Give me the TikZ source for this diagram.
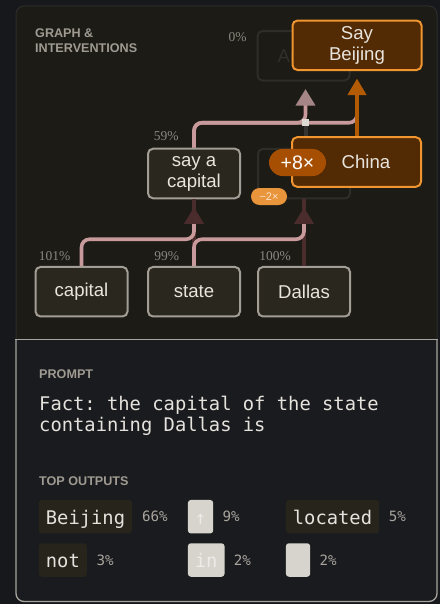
\documentclass[tikz,border=0pt]{standalone}
\usepackage{fontspec}
\setmainfont{Liberation Sans}
\setmonofont{DejaVu Sans Mono}
\newfontfamily\pctfont{Liberation Serif}
\usepackage{tikz}
\usetikzlibrary{positioning}
\usetikzlibrary{calc,arrows.meta}

\definecolor{PageBg}{HTML}{17181B}
\definecolor{GraphBg}{HTML}{1C1B16}
\definecolor{GraphEdge}{HTML}{2C2C2B}
\definecolor{PromptBg}{HTML}{1A1B1E}
\definecolor{PromptEdge}{HTML}{A8A59F}
\definecolor{HeadGray}{HTML}{A09B92}
\definecolor{NodeFill}{HTML}{2A271F}
\definecolor{NodeEdge}{HTML}{A39E95}
\definecolor{NodeText}{HTML}{E9E5DD}
\definecolor{GhostEdge}{HTML}{2E2D28}
\definecolor{GhostText}{HTML}{302F2A}
\definecolor{SteerFill}{HTML}{522A04}
\definecolor{SteerEdge}{HTML}{F0952F}
\definecolor{PillDark}{HTML}{A64F03}
\definecolor{PillLight}{HTML}{E8953C}
\definecolor{PillLightText}{HTML}{FBE3C6}
\definecolor{FlowPink}{HTML}{C89A9B}
\definecolor{DimRed}{HTML}{4B2C2C}
\definecolor{DimGray}{HTML}{35332F}
\definecolor{TipMauve}{HTML}{A58585}
\definecolor{BoostOrange}{HTML}{B35B04}
\definecolor{PctGray}{HTML}{8C8880}
\definecolor{PromptText}{HTML}{E5E2DD}
\definecolor{ChipDark}{HTML}{27241B}
\definecolor{ChipLight}{HTML}{D7D4CE}
\definecolor{ChipLightText}{HTML}{EDEBE7}
\definecolor{OutPctGray}{HTML}{A9A59E}
\definecolor{CutMark}{HTML}{DCD8D2}

\tikzset{
	feature/.style={draw=NodeEdge, fill=NodeFill, line width=2pt, rounded corners=5pt,
		minimum width=92pt, minimum height=49.5pt, inner sep=0pt, align=center,
		text=NodeText, font=\fontsize{18.6}{21}\selectfont},
	ghost/.style={feature, draw=GhostEdge, fill=GraphBg, text=GhostText},
	steered/.style={feature, draw=SteerEdge, fill=SteerFill, minimum width=129pt},
	heading/.style={text=HeadGray, font=\bfseries\fontsize{12.6}{15}\selectfont, inner sep=0pt, align=left},
	pct/.style={text=PctGray, font=\pctfont\fontsize{13.5}{14}\selectfont, inner sep=0pt},
	flow/.style={draw=FlowPink, line width=3.6pt, rounded corners=8pt},
	dimflow/.style={draw=DimRed, line width=4pt},
	toDark/.style={-{Triangle[length=16.5pt,width=19pt,color=DimRed]}, shorten >=8pt},
	toMauve/.style={-{Triangle[length=16.5pt,width=19pt,color=TipMauve]}, shorten >=7.5pt},
	boost/.style={draw=BoostOrange, line width=3.2pt, -{Triangle[length=16.5pt,width=18.5pt]}, shorten >=7.6pt},
	pill/.style={fill=PillDark, text=white, rounded corners=13.5pt, minimum width=57pt, minimum height=27pt,
		inner sep=0pt, font=\fontsize{19.5}{20}\selectfont},
	pillSmall/.style={fill=PillLight, text=PillLightText, rounded corners=8.5pt, minimum width=36pt, minimum height=17pt,
		inner sep=0pt, font=\fontsize{11}{12}\selectfont},
	darkChip/.style={fill=ChipDark, text=PromptText, rounded corners=3pt, inner xsep=7pt, inner ysep=0pt,
		minimum height=33.5pt, text height=18pt, text depth=3.4pt, font=\ttfamily\fontsize{18.8}{20}\selectfont},
	lightChip/.style={darkChip, fill=ChipLight, text=ChipLightText},
	outPct/.style={text=OutPctGray, inner sep=0pt, font=\ttfamily\fontsize{14.2}{15}\selectfont},
}

\begin{document}
\begin{tikzpicture}[x=1pt,y=-1pt]
	
	% ---------------------
	% Canvas & panels
	\useasboundingbox (0,0) rectangle (440,604);
	\fill[PageBg] (0,0) rectangle (440,604);
	\draw[PromptEdge, fill=PromptBg, line width=1.3pt, rounded corners=8pt]
		(16,339.5) -- (16,601.5) -- (437,601.5) -- (437,339.5);
	\draw[GraphEdge, fill=GraphBg, line width=1pt, rounded corners=8pt]
		(16,339.5) -- (16,6) -- (437,6) -- (437,339.5);
	\draw[PromptEdge, line width=1.3pt, line cap=rect] (16,339.5) -- (437,339.5);
	
	\node[heading, anchor=north west] (graphTitle) at (35,28.3) {GRAPH \&\\INTERVENTIONS};
	
	% ---------------------
	% Feature nodes
	\node[feature] (capital)    at (81.5,291.7) {capital};
	\node[feature] (state)      at (194.0,291.7) {state};
	\node[feature] (dallas)     at (304.0,291.7) {Dallas};
	\node[feature] (sayCapital) at (194.0,173.5) {say a\\capital};
	\node[ghost]   (texas)      at (304.0,173.7) {};
	\node[ghost]   (austin)     at (303.5,55.8) {Austin};
	\node[steered] (sayBeijing) at (357.0,45.3) {Say\\Beijing};
	
	% activation percentages
	\node[pct] (pCapital)    at ($(capital.north west)+(20,-10.2)$) {101\%};
	\node[pct] (pState)      at ($(state.north west)+(19.7,-10.2)$) {99\%};
	\node[pct] (pDallas)     at ($(dallas.north west)+(18.2,-10.2)$) {100\%};
	\node[pct] (pSayCapital) at ($(sayCapital.north west)+(19.3,-11.5)$) {59\%};
	\node[pct] (pAustin)     at ($(austin.north west)+(-19,7.5)$) {0\%};
	
	% ---------------------
	% Lower edges
	\draw[dimflow] (state.north) -- (sayCapital.south);
	\draw[dimflow] (dallas.north) -- (texas.south);
	\draw[flow, toDark] (capital.north) -- ++(0,-26.7) -| (sayCapital.south);
	\draw[flow, toDark] (state.north) -- ++(0,-26.7) -| (texas.south);
	
	% ---------------------
	% Upper edges
	\coordinate (cut) at (305.5,122.7);
	\path (austin.south) +(2,0) coordinate (austinIn);
	
	\draw[dimflow, draw=DimGray] (texas.north -| cut) -- (cut);
	\draw[flow, shorten >=30pt] (sayCapital.north) -- ++(0,-25) -| (sayBeijing.south);
	\draw[flow, toMauve] (sayCapital.north) -- ++(0,-25) -| (austinIn);
	\node[fill=CutMark, minimum size=7pt, inner sep=0pt] (cutBox) at (cut) {};
	
	% ---------------------
	% Intervention
	\node[steered] (china) at (356.5,162.0) {\hspace*{19pt}China};
	\draw[boost] (china.north -| sayBeijing.south) -- (sayBeijing.south);
	
	\node[pill]      (boostPill) at (297.5,162.5) {+8×};
	\node[pillSmall] (dropPill)  at (269.0,196.5) {−2×};
	
	% ------------------------------------------------
	% Prompt
	\node[heading, anchor=north west] (promptTitle) at (39,369.3) {PROMPT};
	\node[anchor=north west, inner sep=0pt, align=left, text=PromptText,
		font=\ttfamily\fontsize{18.8}{21.2}\selectfont] (promptText) at (39,395.5)
		{Fact: the capital of the state\\containing Dallas is};
	
	% ------------------------------------------------
	% Top outputs
	\node[heading, anchor=north west] (outTitle) at (39,476.5) {TOP OUTPUTS};
	
	\node[darkChip, anchor=west]  (tokBeijing) at (38.7,516.7) {Beijing};
	\node[outPct, right=9.5pt of tokBeijing] (pBeijing) {66\%};
	\node[lightChip, anchor=west] (tokArrow) at (187.7,516.7) {↑};
	\node[outPct, right=9pt of tokArrow] (pArrow) {9\%};
	\node[darkChip, anchor=west]  (tokLocated) at (285.7,516.7) {located};
	\node[outPct, right=9.3pt of tokLocated] (pLocated) {5\%};
	
	\node[darkChip, anchor=west]  (tokNot) at (38.7,560.0) {not};
	\node[outPct, right=9.3pt of tokNot] (pNot) {3\%};
	\node[lightChip, anchor=west] (tokIn) at (187.7,560.0) {in};
	\node[outPct, right=9pt of tokIn] (pIn) {2\%};
	\node[lightChip, anchor=west, minimum width=24.3pt] (tokBlank) at (285.7,560.0) {};
	\node[outPct, right=9pt of tokBlank] (pBlank) {2\%};
	
\end{tikzpicture}
\end{document}
